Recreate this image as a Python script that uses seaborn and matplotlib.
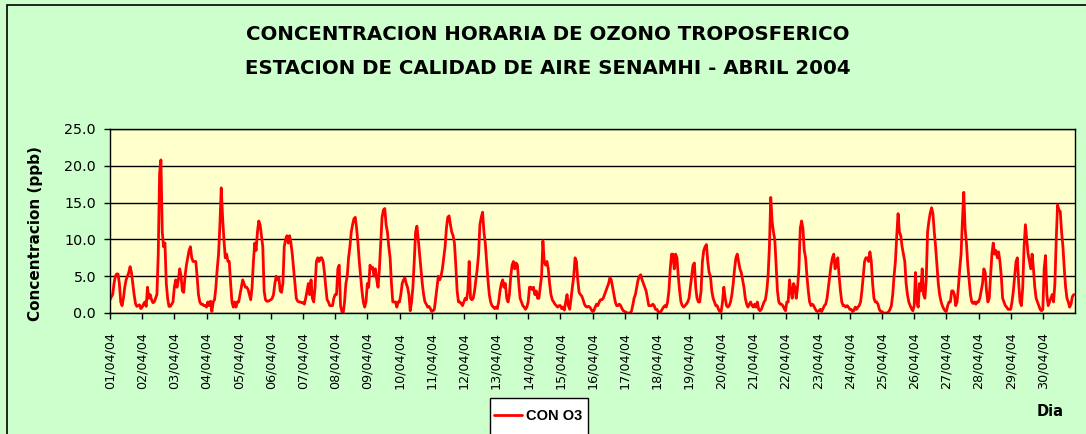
import numpy as np
import pandas as pd
import seaborn as sns
import matplotlib
matplotlib.use("Agg")
import matplotlib.pyplot as plt
import matplotlib.dates as mdates
from matplotlib.patches import Rectangle

# Hourly tropospheric ozone (ppb), SENAMHI station, April 2004 (one row per day, 00h..23h)
o3_ppb = [
    1.8, 2.2, 2.5, 4.0, 5.0, 5.3, 5.3, 4.0, 1.5, 1.0, 2.0, 3.5, 4.5, 5.0, 5.5, 6.3, 5.5, 4.0, 2.5, 1.3, 0.9, 1.0, 1.1, 0.6,
    0.8, 1.2, 1.5, 0.9, 3.5, 2.0, 2.5, 1.8, 1.4, 1.5, 2.0, 2.5, 8.0, 19.0, 20.8, 11.0, 9.0, 9.5, 4.0, 2.0, 0.9, 0.9, 1.2, 1.5,
    3.5, 4.5, 3.5, 4.5, 6.0, 5.0, 3.0, 2.8, 5.0, 6.5, 7.5, 8.5, 9.0, 7.5, 7.0, 7.0, 7.0, 5.0, 2.5, 1.5, 1.2, 1.2, 1.0, 1.0,
    0.8, 1.5, 1.0, 1.6, 0.2, 1.5, 1.8, 3.5, 6.0, 8.0, 12.0, 17.0, 13.0, 10.0, 7.5, 8.0, 7.0, 7.0, 4.0, 1.5, 0.8, 1.5, 0.8, 1.5,
    1.5, 2.5, 3.5, 4.5, 4.0, 3.5, 3.5, 3.2, 2.5, 1.8, 3.5, 7.0, 9.5, 8.5, 11.0, 12.5, 12.0, 10.5, 9.0, 3.0, 1.8, 1.6, 1.6, 1.7,
    1.8, 2.0, 2.5, 4.0, 5.0, 4.5, 4.8, 3.0, 2.8, 4.0, 9.0, 10.0, 10.5, 9.5, 10.5, 9.5, 8.0, 6.0, 4.0, 2.0, 1.6, 1.5, 1.5, 1.4,
    1.4, 1.2, 2.0, 3.0, 4.0, 2.5, 4.5, 2.0, 1.5, 3.5, 7.0, 7.5, 7.0, 7.5, 7.5, 7.0, 5.5, 3.5, 1.8, 1.5, 1.0, 1.0, 1.0, 2.0,
    2.5, 2.5, 6.0, 6.5, 1.0, 0.2, 0.0, 1.5, 4.0, 5.0, 7.5, 9.0, 11.0, 12.0, 12.8, 13.0, 11.5, 9.5, 7.0, 5.0, 3.0, 1.5, 0.8, 1.5,
    4.0, 3.5, 6.5, 6.0, 6.2, 5.0, 6.0, 4.5, 3.5, 6.0, 9.5, 13.0, 14.0, 14.2, 12.0, 11.0, 9.0, 7.5, 4.0, 1.5, 1.5, 1.5, 0.8, 1.5,
    1.5, 2.5, 4.0, 4.5, 4.8, 4.0, 3.5, 2.5, 0.3, 1.5, 3.5, 7.0, 11.0, 11.8, 10.0, 8.0, 6.0, 4.0, 2.5, 1.5, 1.2, 0.8, 0.9, 0.6,
    0.2, 0.3, 0.5, 2.0, 3.5, 5.0, 4.5, 5.0, 6.0, 7.5, 9.0, 11.5, 13.0, 13.2, 12.0, 11.0, 10.5, 9.5, 6.5, 3.0, 1.5, 1.5, 1.3, 1.0,
    1.5, 2.0, 1.8, 3.0, 7.0, 2.0, 1.8, 2.0, 3.0, 4.5, 6.0, 8.0, 12.0, 13.0, 13.7, 11.0, 9.5, 7.0, 4.5, 2.5, 1.5, 1.0, 0.8, 0.6,
    0.8, 0.6, 1.5, 3.0, 4.0, 4.5, 3.5, 4.0, 2.0, 1.5, 2.5, 5.0, 6.5, 7.0, 6.0, 6.8, 6.5, 4.0, 2.0, 1.5, 1.0, 0.8, 0.5, 0.8,
    1.5, 3.5, 3.5, 3.2, 3.5, 2.5, 3.0, 2.0, 2.0, 3.5, 5.0, 9.8, 7.0, 6.5, 7.0, 6.0, 4.0, 2.5, 1.8, 1.5, 1.2, 1.0, 0.8, 1.0,
    1.0, 0.6, 0.8, 0.4, 1.5, 2.5, 1.0, 0.5, 2.0, 3.5, 5.0, 7.5, 7.0, 4.5, 2.8, 2.5, 2.3, 1.8, 1.2, 0.9, 0.8, 0.9, 0.8, 0.5,
    0.2, 0.3, 0.8, 1.2, 1.0, 1.5, 1.8, 1.8, 2.0, 2.5, 3.0, 3.5, 4.0, 4.8, 4.5, 3.5, 2.5, 1.5, 1.0, 1.0, 1.2, 1.0, 0.6, 0.3,
    0.2, 0.1, 0.0, 0.0, 0.0, 0.2, 1.0, 2.0, 2.5, 3.5, 4.5, 5.0, 5.2, 4.5, 4.0, 3.5, 3.0, 2.0, 1.0, 1.0, 1.0, 1.2, 1.0, 0.5,
    0.5, 0.2, 0.0, 0.2, 0.5, 0.8, 1.0, 0.8, 1.5, 3.0, 6.0, 8.0, 8.0, 6.0, 8.0, 7.5, 5.0, 3.0, 1.5, 1.0, 0.8, 1.0, 1.2, 1.5,
    2.0, 3.5, 5.0, 6.5, 6.8, 3.5, 2.0, 1.5, 1.5, 3.0, 7.0, 8.5, 9.0, 9.3, 7.0, 5.5, 5.0, 3.0, 2.0, 1.5, 1.0, 1.0, 0.5, 0.2,
    0.2, 1.5, 3.5, 2.0, 1.0, 0.8, 1.0, 1.5, 2.5, 4.0, 6.0, 7.5, 8.0, 7.0, 6.0, 5.5, 4.5, 3.5, 2.0, 1.2, 0.8, 1.2, 1.5, 1.0,
    0.8, 1.2, 0.8, 1.5, 0.5, 0.3, 0.5, 1.0, 1.5, 1.8, 3.0, 5.0, 9.0, 15.7, 12.5, 11.0, 10.0, 6.5, 3.0, 1.5, 1.2, 1.2, 1.0, 0.6,
    0.3, 1.5, 1.5, 4.5, 3.0, 2.0, 4.0, 3.5, 2.0, 3.5, 6.0, 11.5, 12.5, 11.5, 8.5, 7.5, 5.0, 3.0, 1.5, 1.0, 1.2, 1.0, 0.6, 0.3,
    0.2, 0.3, 0.5, 0.2, 0.6, 1.0, 1.2, 2.0, 3.5, 5.0, 6.5, 7.5, 8.0, 6.0, 7.0, 7.5, 5.0, 3.0, 1.5, 1.0, 1.0, 0.8, 1.0, 0.8,
    0.5, 0.5, 0.2, 0.3, 0.8, 0.5, 0.8, 1.0, 1.5, 3.0, 5.0, 7.0, 7.5, 7.5, 7.0, 8.3, 7.0, 4.0, 2.0, 1.5, 1.5, 1.2, 0.5, 0.2,
    0.2, 0.0, 0.0, 0.0, 0.0, 0.2, 0.5, 1.0, 2.5, 5.0, 7.0, 10.5, 13.5, 11.0, 10.5, 9.0, 8.0, 7.0, 4.0, 2.5, 1.5, 1.0, 0.6, 0.3,
    1.0, 5.5, 1.5, 0.8, 4.0, 3.0, 6.0, 2.5, 2.0, 4.5, 11.0, 12.5, 13.6, 14.3, 13.5, 11.0, 9.0, 6.5, 4.0, 2.5, 1.6, 1.0, 0.6, 0.3,
    0.2, 1.0, 1.5, 1.5, 3.0, 3.0, 2.5, 1.0, 1.5, 3.5, 6.0, 8.0, 12.5, 16.4, 11.5, 9.5, 6.5, 4.5, 2.5, 1.5, 1.3, 1.5, 1.2, 1.5,
    1.5, 2.0, 3.0, 4.0, 6.0, 5.5, 3.0, 1.5, 2.0, 5.0, 8.0, 9.5, 8.0, 8.5, 7.5, 8.3, 7.0, 5.0, 2.0, 1.5, 1.0, 0.8, 0.5, 0.5,
    0.5, 1.5, 3.0, 5.0, 7.0, 7.5, 4.0, 1.5, 1.0, 3.5, 9.0, 12.0, 10.0, 8.0, 7.0, 6.0, 8.0, 6.0, 3.5, 2.0, 1.5, 1.0, 0.5, 0.3,
    0.5, 6.0, 7.8, 2.5, 1.0, 1.5, 2.0, 2.5, 1.5, 4.0, 10.0, 14.7, 14.0, 13.8, 11.0, 9.0, 6.0, 3.5, 2.0, 1.5, 0.8, 1.2, 2.2, 2.5,
]

start_date = "2004-04-01"
series_name = "CON O3"
title_lines = ["CONCENTRACION HORARIA DE OZONO TROPOSFERICO",
               "ESTACION DE CALIDAD DE AIRE SENAMHI - ABRIL 2004"]
y_label = "Concentracion (ppb)"
x_label = "Dia"
y_ticks = [0, 5, 10, 15, 20, 25]

hours = pd.date_range(start_date, periods=len(o3_ppb), freq="h")
df = pd.DataFrame({"fecha": hours, "o3": o3_ppb})
day_ticks = pd.date_range(start_date, periods=30, freq="D")

sns.set_style("white")
plt.rcParams["font.family"] = ["DejaVu Sans"]
plt.rcParams["text.color"] = "black"
plt.rcParams["axes.labelcolor"] = "black"
plt.rcParams["xtick.color"] = "black"
plt.rcParams["ytick.color"] = "black"

W, H = 1086, 434
fig = plt.figure(figsize=(W / 100, H / 100), dpi=100)
fig.patch.set_facecolor("#CCFFCC")

# outer chart border
fig.patches.append(Rectangle((7 / W, -0.05), 1.2, 1 - 5 / H + 0.05,
                             transform=fig.transFigure, fill=False,
                             edgecolor="black", linewidth=1.2, zorder=0))

ax = fig.add_axes([110 / W, 1 - 313 / H, (1075 - 110) / W, (313 - 129) / H])
ax.set_facecolor("#FFFFCC")

sns.lineplot(data=df, x="fecha", y="o3", ax=ax, color="#FF0000",
             linewidth=2.0, label=series_name, legend=False)

ax.set_ylim(0, 25)
ax.set_xlim(pd.Timestamp(start_date), pd.Timestamp("2004-05-01"))
ax.set_yticks(y_ticks)
ax.set_yticklabels([f"{v:.1f}" for v in y_ticks])
ax.set_xticks(day_ticks)
ax.xaxis.set_major_formatter(mdates.DateFormatter("%d/%m/%y"))
ax.grid(axis="y", color="black", linewidth=1.0)
ax.grid(axis="x", visible=False)
for s in ax.spines.values():
    s.set_color("black")
    s.set_linewidth(1.0)

ax.tick_params(axis="y", direction="out", length=4, width=1, pad=6,
               labelsize=10.3, left=True)
ax.tick_params(axis="x", direction="out", length=4, width=1, pad=10,
               labelsize=9.2, bottom=True, labelrotation=90)

ax.set_xlabel("")
ax.set_ylabel(y_label, fontsize=11.0, fontweight="bold")
ax.yaxis.set_label_coords(-0.069, 0.43)

fig.text(548 / W, 1 - 34 / H, title_lines[0], ha="center", va="center",
         fontsize=14.2, fontweight="bold")
fig.text(548 / W, 1 - 68 / H, title_lines[1], ha="center", va="center",
         fontsize=14.2, fontweight="bold")
fig.text(1050 / W, 1 - 412 / H, x_label, ha="center", va="center",
         fontsize=10.5, fontweight="bold")

# legend: frame drawn as a plain box that runs off the bottom edge
fig.patches.append(Rectangle((490 / W, -0.05), 98 / W, 1 - 398 / H + 0.05,
                             transform=fig.transFigure, facecolor="white",
                             edgecolor="black", linewidth=1.0, zorder=1))
leg = fig.legend(handles=ax.get_lines()[:1], labels=[series_name],
                 loc="center left", bbox_to_anchor=(494 / W, 1 - 416 / H),
                 frameon=False, borderpad=0, borderaxespad=0,
                 handlelength=1.9, handletextpad=0.3,
                 prop={"family": "Liberation Sans", "weight": "bold", "size": 10.5})
leg.set_zorder(2)

fig.savefig("out.png", dpi=100, facecolor=fig.get_facecolor())
